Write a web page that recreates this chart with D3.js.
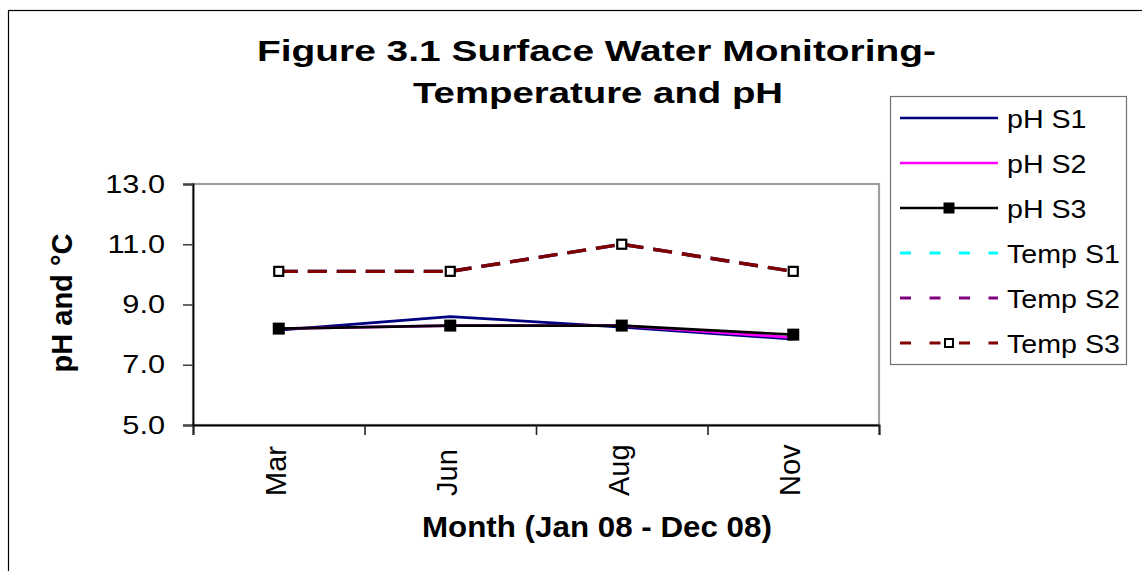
<!DOCTYPE html>
<html>
<head>
<meta charset="utf-8">
<script src="https://cdn.jsdelivr.net/npm/d3@7"></script>
<style>
  body { margin: 0; background: #fff; }
  text { font-family: "Liberation Sans", Arial, sans-serif; fill: #000; }
</style>
</head>
<body>
<div id="chart"></div>
<script>
// values
const months = ["Mar", "Jun", "Aug", "Nov"];
const phS1 = [8.15, 8.6, 8.25, 7.85];
const phS2 = [8.2, 8.3, 8.3, 7.9];
const phS3 = [8.2, 8.3, 8.3, 8.0];
const tempS1 = [10.1, 10.1, 11.0, 10.1];
const tempS2 = [10.1, 10.1, 11.0, 10.1];
const tempS3 = [10.1, 10.1, 11.0, 10.1];
const yTicks = [5, 7, 9, 11, 13];
const seriesNames = ["pH S1", "pH S2", "pH S3", "Temp S1", "Temp S2", "Temp S3"];

const WIDTH = 1142;
const HEIGHT = 571;
const PLOT = {left: 193, top: 184, right: 879, bottom: 425};

const series = [
  {name: seriesNames[0], values: phS1, color: "#000080", dashed: false, marker: null},
  {name: seriesNames[1], values: phS2, color: "#ff00ff", dashed: false, marker: null},
  {name: seriesNames[2], values: phS3, color: "#000000", dashed: false, marker: "filled"},
  {name: seriesNames[3], values: tempS1, color: "#00ffff", dashed: true, marker: null},
  {name: seriesNames[4], values: tempS2, color: "#800080", dashed: true, marker: null},
  {name: seriesNames[5], values: tempS3, color: "#800000", dashed: true, marker: "hollow"}
];

const svg = d3.select("#chart").append("svg")
  .attr("width", WIDTH)
  .attr("height", HEIGHT);

// stretch text horizontally like the reference image
function stretch(sel, k) {
  sel.each(function() {
    const len = this.getComputedTextLength();
    d3.select(this).attr("textLength", len * k).attr("lengthAdjust", "spacingAndGlyphs");
  });
}

// outer chart border (right and bottom fall outside the picture)
svg.append("rect")
  .attr("x", 8.5).attr("y", 10.5)
  .attr("width", 1300).attr("height", 800)
  .attr("fill", "#fff")
  .attr("stroke", "#000")
  .attr("stroke-width", 1.2);

const x = d3.scaleBand().domain(months).range([PLOT.left, PLOT.right]).padding(0);
const xEdge = d3.scaleLinear().domain([0, months.length]).range([PLOT.left, PLOT.right]);
const y = d3.scaleLinear().domain([5, 13]).range([PLOT.bottom, PLOT.top]);
const cx = (m) => x(m) + x.bandwidth() / 2;

// plot area border
svg.append("rect")
  .attr("x", PLOT.left).attr("y", PLOT.top)
  .attr("width", PLOT.right - PLOT.left).attr("height", PLOT.bottom - PLOT.top)
  .attr("fill", "#fff")
  .attr("stroke", "#a0a0a0")
  .attr("stroke-width", 2.2);

// y axis
const yAxis = svg.append("g")
  .attr("transform", `translate(${PLOT.left},0)`)
  .call(d3.axisLeft(y).tickValues(yTicks).tickSize(10).tickFormat(""));
yAxis.select(".domain").attr("stroke", "#000").attr("stroke-width", 1.8);
yAxis.selectAll(".tick line").attr("stroke", "#444").attr("stroke-width", 1.6);

svg.append("g").selectAll("text")
  .data(yTicks)
  .join("text")
  .attr("x", 165)
  .attr("y", (d) => y(d) + 8.5)
  .attr("text-anchor", "end")
  .attr("font-size", 26)
  .text((d) => d3.format(".1f")(d))
  .call(stretch, 1.18);

// x axis: ticks on band edges
const xAxis = svg.append("g")
  .attr("transform", `translate(0,${PLOT.bottom})`)
  .call(d3.axisBottom(xEdge).tickValues(d3.range(months.length + 1)).tickSize(10).tickFormat(""));
xAxis.select(".domain").attr("stroke", "#000").attr("stroke-width", 1.8);
xAxis.selectAll(".tick line").attr("stroke", "#222").attr("stroke-width", 1.6);

svg.append("g").selectAll("text")
  .data(months)
  .join("text")
  .attr("transform", (d) => `translate(${cx(d) + 7},496) rotate(-90)`)
  .attr("text-anchor", "start")
  .attr("font-size", 29)
  .text((d) => d);

// lines
const line = (vals) => d3.line()
  .x((d, i) => cx(months[i]))
  .y((d) => y(d))(vals);

series.forEach((s) => {
  svg.append("path")
    .attr("d", line(s.values))
    .attr("fill", "none")
    .attr("stroke", s.color)
    .attr("stroke-width", s.dashed ? 3.4 : 2.7)
    .attr("stroke-dasharray", s.dashed ? "19,10" : null)
    .attr("stroke-linejoin", "round");
});

// markers
series.filter((s) => s.marker).forEach((s) => {
  const size = s.marker === "filled" ? 12 : 9;
  svg.append("g").selectAll("rect")
    .data(s.values)
    .join("rect")
    .attr("x", (d, i) => cx(months[i]) - size / 2)
    .attr("y", (d) => y(d) - size / 2)
    .attr("width", size).attr("height", size)
    .attr("fill", s.marker === "filled" ? "#000" : "#fff")
    .attr("stroke", "#000")
    .attr("stroke-width", s.marker === "filled" ? 0 : 2.2);
});

// title
svg.append("text")
  .attr("x", 257).attr("y", 61)
  .attr("font-size", 29).attr("font-weight", "bold")
  .attr("textLength", 679).attr("lengthAdjust", "spacingAndGlyphs")
  .text("Figure 3.1 Surface Water Monitoring-");
svg.append("text")
  .attr("x", 413).attr("y", 103)
  .attr("font-size", 29).attr("font-weight", "bold")
  .attr("textLength", 370).attr("lengthAdjust", "spacingAndGlyphs")
  .text("Temperature and pH");

// axis titles
svg.append("text")
  .attr("x", 422).attr("y", 537)
  .attr("font-size", 29).attr("font-weight", "bold")
  .text("Month (Jan 08 - Dec 08)")
  .call(stretch, 1.08);

svg.append("text")
  .attr("transform", "translate(72,303) rotate(-90)")
  .attr("text-anchor", "middle")
  .attr("font-size", 29).attr("font-weight", "bold")
  .text("pH and °C");

// legend
const legend = svg.append("g");
legend.append("rect")
  .attr("x", 890.5).attr("y", 96.5)
  .attr("width", 236).attr("height", 268)
  .attr("fill", "#fff")
  .attr("stroke", "#707070")
  .attr("stroke-width", 1.2);

const rows = legend.selectAll("g.row")
  .data(series)
  .join("g")
  .attr("class", "row")
  .attr("transform", (d, i) => `translate(0,${118 + i * 45})`);

rows.append("line")
  .attr("x1", 900).attr("x2", 998)
  .attr("stroke", (d) => d.color)
  .attr("stroke-width", (d) => d.dashed ? 3 : 2.4)
  .attr("stroke-dasharray", (d) => d.dashed ? "11,18.5" : null);

rows.filter((d) => d.marker).append("rect")
  .attr("x", (d) => 949 - (d.marker === "filled" ? 5.5 : 4))
  .attr("y", (d) => -(d.marker === "filled" ? 5.5 : 4))
  .attr("width", (d) => d.marker === "filled" ? 11 : 8)
  .attr("height", (d) => d.marker === "filled" ? 11 : 8)
  .attr("fill", (d) => d.marker === "filled" ? "#000" : "#fff")
  .attr("stroke", "#000")
  .attr("stroke-width", (d) => d.marker === "filled" ? 0 : 2);

rows.append("text")
  .attr("x", 1007).attr("y", 9.5)
  .attr("font-size", 26)
  .text((d) => d.name)
  .call(stretch, 1.1);
</script>
</body>
</html>
